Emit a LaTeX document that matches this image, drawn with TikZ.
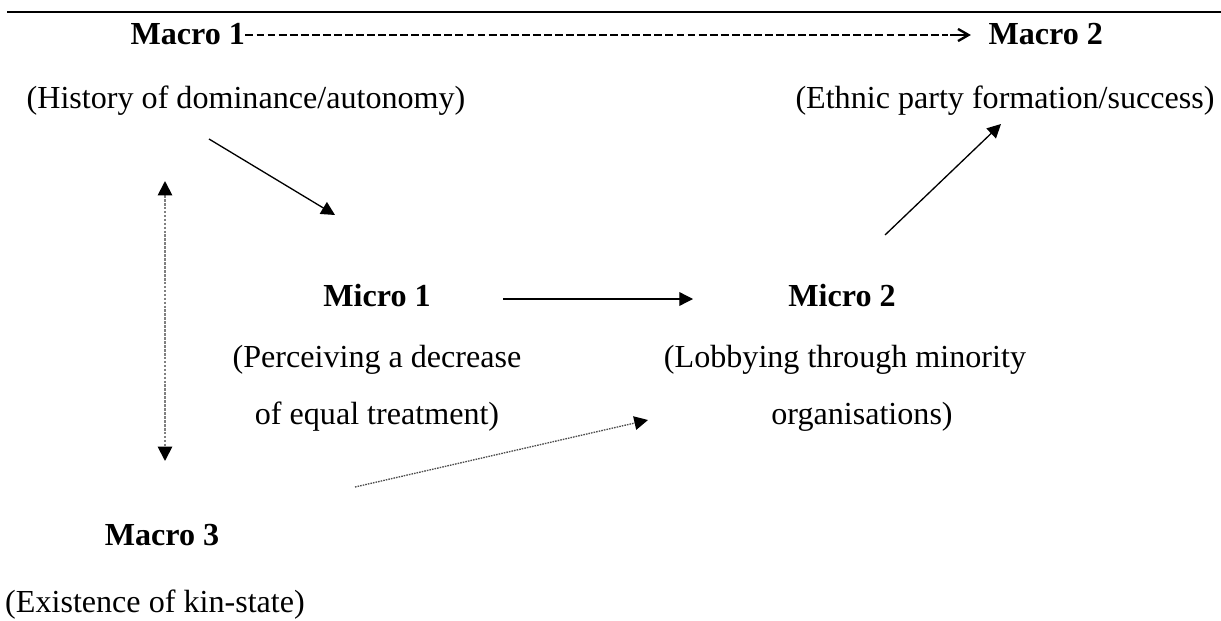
\documentclass[tikz,border=0pt]{standalone}
\usepackage{fontspec}
\setmainfont{Liberation Serif}
\usetikzlibrary{arrows.meta}

\begin{document}
\begin{tikzpicture}[x=0.38pt,y=-0.38pt]
            \tikzset{every node/.style={inner sep=0pt,font=\fontsize{12.2}{14}\selectfont},
              txt/.style={anchor=base},
              hd/.style={anchor=base,font=\fontsize{12.2}{14}\selectfont\bfseries},
              causal/.style={line width=0.5pt,-{Triangle[length=5.2pt,width=5.2pt]}},
              linked/.style={line width=0.7pt,gray,dash pattern=on 1pt off 0.5pt,
                {Triangle[length=5.5pt,width=5.5pt,color=black,fill=black]}-{Triangle[length=5.5pt,width=5.5pt,color=black,fill=black]}},
              feeds/.style={line width=0.5pt,black!70,dash pattern=on 0.6pt off 0.4pt,
                -{Triangle[length=5.2pt,width=5.2pt,color=black,fill=black]}},
              macrodash/.style={line width=0.8pt,dash pattern=on 3pt off 1.2pt},
              barb/.style={line width=0.9pt,-{Straight Barb[length=4pt,width=4.6pt]}}}
            \useasboundingbox (0,0) rectangle (1221,621);
            % top rule
            \draw [line width=0.8pt] (7,12) -- (1221,12);
            % macro level
            \node [hd,anchor=base west] (mac1) at (130,45) {Macro 1};
            \node [hd,anchor=base west] (mac2) at (988,45) {Macro 2};
            \coordinate (dashend) at (948,35);
            \coordinate (barbstart) at (950,35);
            \draw [macrodash] (mac1.east |- dashend) -- (dashend);
            \draw [barb,shorten >=6.5pt] (barbstart) -- (barbstart -| mac2.west);
            \node [txt] (hist) at (246,109) {(History of dominance/autonomy)};
            \node [txt] (ethnic) at (1005,109) {(Ethnic party formation/success)};
            % micro level
            \node [hd] (mic1) at (377,306) {Micro 1};
            \node [txt] (mic1a) at (377,367) {(Perceiving a decrease};
            \node [txt] (mic1b) at (377,424) {of equal treatment)};
            \node [hd] (mic2) at (842,306) {Micro 2};
            \node [txt] (mic2a) at (845,367) {(Lobbying through minority};
            \node [txt] (mic2b) at (862,424) {organisations)};
            % kin-state
            \node [hd] (mac3) at (162,545) {Macro 3};
            \node [txt] (kin) at (155,612) {(Existence of kin-state)};
            % connectors
            \coordinate (a1s) at (209,139);
            \coordinate (a1e) at (335,215);
            \draw [causal] (a1s) -- (a1e);
            \coordinate (a2s) at (503,299);
            \coordinate (a2e) at (693,299);
            \draw [causal] (a2s) -- (a2e);
            \coordinate (a3s) at (885,235);
            \coordinate (a3e) at (1001,124);
            \draw [causal] (a3s) -- (a3e);
            \coordinate (vtop) at (165,181);
            \coordinate (vbot) at (165,461);
            \draw [linked] (vtop) -- (vbot);
            \coordinate (a4s) at (355,487);
            \coordinate (a4e) at (648,420);
            \draw [feeds] (a4s) -- (a4e);
        \end{tikzpicture}
\end{document}
